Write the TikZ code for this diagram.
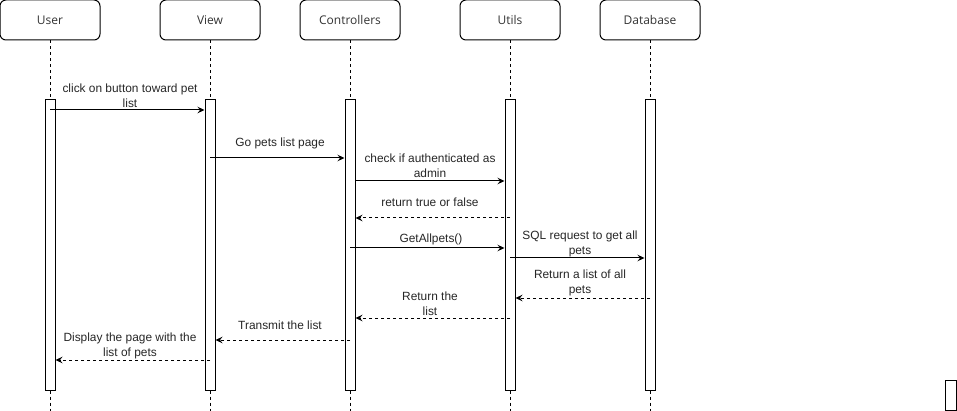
\documentclass[tikz,border=0pt]{standalone}
\usepackage{fontspec}
\setmainfont{Liberation Sans}
\newfontfamily\headfont{Open Sans}
\usetikzlibrary{arrows.meta,positioning}

\begin{document}
\begin{tikzpicture}[x=1pt, y=-1pt, line width=1pt, >={Stealth[length=7pt,width=6.5pt,inset=2.5pt]},
    head/.style={draw, rounded corners=6pt, minimum width=100pt, minimum height=40pt,
        font=\headfont\fontsize{12}{14}\selectfont, text=black!80},
    actbar/.style={draw, fill=white, minimum width=10pt, minimum height=290pt, inner sep=0pt},
    life/.style={dash pattern=on 3pt off 3pt},
    msg/.style={->},
    ret/.style={->, dash pattern=on 3pt off 3pt},
    lbl/.style={font=\fontsize{11.9}{15}\selectfont, align=center, text=black!85, inner sep=0pt}]

    % Frame of the picture
    \useasboundingbox (0,0) rectangle (957,411);

    % Participants
    \node[head] (user)  at (50,20)  {User};
    \node[head] (view)  at (210,20) {View};
    \node[head] (ctrl)  at (350,20) {Controllers};
    \node[head] (utils) at (510,20) {Utils};
    \node[head] (db)    at (650,20) {Database};

    % Activation bars
    \node[actbar] (userbar)  at (50,245)  {};
    \node[actbar] (viewbar)  at (210,245) {};
    \node[actbar] (ctrlbar)  at (350,245) {};
    \node[actbar] (utilsbar) at (510,245) {};
    \node[actbar] (dbbar)    at (650,245) {};

    % Lower ends of the lifelines
    \coordinate (bottom) at (0,411);

    % Lifelines
    \draw[life] (user)  -- (userbar);
    \draw[life] (view)  -- (viewbar);
    \draw[life] (ctrl)  -- (ctrlbar);
    \draw[life] (utils) -- (utilsbar);
    \draw[life] (db)    -- (dbbar);
    \draw[life] (userbar.south)  -- (userbar.south |- bottom);
    \draw[life] (viewbar.south)  -- (viewbar.south |- bottom);
    \draw[life] (ctrlbar.south)  -- (ctrlbar.south |- bottom);
    \draw[life] (utilsbar.south) -- (utilsbar.south |- bottom);
    \draw[life] (dbbar.south)    -- (dbbar.south |- bottom);

    % Heights of the messages
    \coordinate (y1) at (0,110);
    \coordinate (y2) at (0,158);
    \coordinate (y3) at (0,181);
    \coordinate (y4) at (0,218);
    \coordinate (y5) at (0,248);
    \coordinate (y6) at (0,258);
    \coordinate (y7) at (0,298);
    \coordinate (y8) at (0,318);
    \coordinate (y9) at (0,340);
    \coordinate (y10) at (0,360);

    % Messages
    \draw[msg] (userbar.center |- y1) -- (viewbar.west |- y1);
    \draw[msg] (viewbar.center |- y2) -- (ctrlbar.west |- y2);
    \draw[msg] (ctrlbar.east |- y3)   -- (utilsbar.west |- y3);
    \draw[ret] (utilsbar.center |- y4) -- (ctrlbar.east |- y4);
    \draw[msg] (ctrlbar.center |- y5) -- (utilsbar.west |- y5);
    \draw[msg] (utilsbar.center |- y6) -- (dbbar.west |- y6);
    \draw[ret] (dbbar.center |- y7)   -- (utilsbar.east |- y7);
    \draw[ret] (utilsbar.center |- y8) -- (ctrlbar.east |- y8);
    \draw[ret] (ctrlbar.center |- y9) -- (viewbar.east |- y9);
    \draw[ret] (viewbar.center |- y10) -- (userbar.east |- y10);

    % Message labels
    \node[lbl] (l1)  at (130,95.5)  {click on button toward pet\\list};
    \node[lbl] (l2)  at (280,143)   {Go pets list page};
    \node[lbl] (l3)  at (430,165.5) {check if authenticated as\\admin};
    \node[lbl] (l4)  at (430,202.5) {return true or false};
    \node[lbl] (l5)  at (431,239)   {GetAllpets()};
    \node[lbl] (l6)  at (580,244)   {SQL request to get all\\pets};
    \node[lbl] (l7)  at (580,282.5) {Return a list of all\\pets};
    \node[lbl] (l8)  at (430,303.5) {Return the\\list};
    \node[lbl] (l9)  at (280,325.5) {Transmit the list};
    \node[lbl] (l10) at (130,345.5) {Display the page with the\\list of pets};

    % Small box, bottom right
    \node[draw, minimum width=11pt, minimum height=30pt, inner sep=0pt] (stub) at (950.5,395) {};

\end{tikzpicture}
\end{document}
